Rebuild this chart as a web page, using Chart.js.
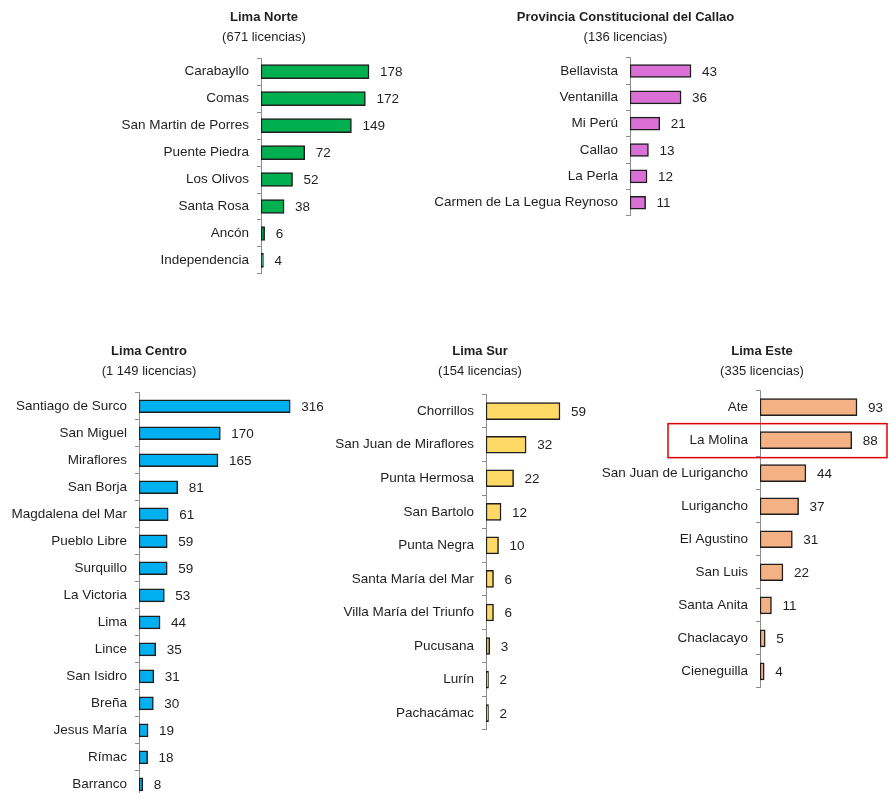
<!DOCTYPE html>
<html>
<head>
<meta charset="utf-8">
<script src="https://cdn.jsdelivr.net/npm/chart.js@4.4.1/dist/chart.umd.min.js"></script>
<style>
  html, body { margin: 0; padding: 0; background: #fff; overflow: hidden; width: 888px; height: 793px; }
  canvas { position: absolute; }
</style>
</head>
<body>
<canvas id="norte" width="312" height="290" style="left:108px;top:0px"></canvas>
<canvas id="callao" width="411" height="232" style="left:420px;top:0px"></canvas>
<canvas id="centro" width="358" height="480" style="left:-30px;top:334px"></canvas>
<canvas id="sur" width="320" height="412" style="left:320px;top:334px"></canvas>
<canvas id="este" width="344" height="370" style="left:590px;top:334px"></canvas>
<script>
// datos por zona
const norteLabels = ['Carabayllo', 'Comas', 'San Martin de Porres', 'Puente Piedra', 'Los Olivos', 'Santa Rosa', 'Ancón', 'Independencia'];
const norteValues = [178, 172, 149, 72, 52, 38, 6, 4];

const callaoLabels = ['Bellavista', 'Ventanilla', 'Mi Perú', 'Callao', 'La Perla', 'Carmen de La Legua Reynoso'];
const callaoValues = [43, 36, 21, 13, 12, 11];

const centroLabels = ['Santiago de Surco', 'San Miguel', 'Miraflores', 'San Borja', 'Magdalena del Mar', 'Pueblo Libre', 'Surquillo', 'La Victoria', 'Lima', 'Lince', 'San Isidro', 'Breña', 'Jesus María', 'Rímac', 'Barranco'];
const centroValues = [316, 170, 165, 81, 61, 59, 59, 53, 44, 35, 31, 30, 19, 18, 8];

const surLabels = ['Chorrillos', 'San Juan de Miraflores', 'Punta Hermosa', 'San Bartolo', 'Punta Negra', 'Santa María del Mar', 'Villa María del Triunfo', 'Pucusana', 'Lurín', 'Pachacámac'];
const surValues = [59, 32, 22, 12, 10, 6, 6, 3, 2, 2];

const esteLabels = ['Ate', 'La Molina', 'San Juan de Lurigancho', 'Lurigancho', 'El Agustino', 'San Luis', 'Santa Anita', 'Chaclacayo', 'Cieneguilla'];
const esteValues = [93, 88, 44, 37, 31, 22, 11, 5, 4];

const FONT = '"Liberation Sans", Arial, sans-serif';
const TEXT = '#1f1f1f';

// numeros al final de cada barra
const valueLabels = {
    id: 'valueLabels',
    afterDatasetsDraw(chart) {
        const ctx = chart.ctx;
        const meta = chart.getDatasetMeta(0);
        ctx.save();
        ctx.font = '13.5px ' + FONT;
        ctx.fillStyle = TEXT;
        ctx.textBaseline = 'middle';
        meta.data.forEach((bar, i) => {
            ctx.fillText(String(chart.data.datasets[0].data[i]), bar.x + 11, bar.y + 1);
        });
        ctx.restore();
    }
};

// recuadro rojo sobre La Molina
const highlightBox = {
    id: 'highlightBox',
    afterDraw(chart, args, opts) {
        if (opts.index === undefined) return;
        const y = chart.scales.y.getPixelForValue(opts.index);
        const left = chart.chartArea.left;
        const ctx = chart.ctx;
        ctx.save();
        ctx.strokeStyle = '#e00000';
        ctx.lineWidth = 1.5;
        ctx.strokeRect(left - 92, y - 16.5, 219, 34);
        ctx.restore();
    }
};

function makeChart(id, title, subtitle, labels, values, color, cfg) {
    return new Chart(document.getElementById(id), {
        type: 'bar',
        data: {
            labels: labels,
            datasets: [{
                data: values,
                backgroundColor: color,
                borderColor: '#1e1e1e',
                borderWidth: 1.5,
                borderSkipped: false,
                barThickness: cfg.bar
            }]
        },
        options: {
            indexAxis: 'y',
            responsive: false,
            animation: false,
            devicePixelRatio: 1,
            layout: { padding: { top: 0, bottom: 12, left: 0, right: 0 } },
            plugins: {
                legend: { display: false },
                tooltip: { enabled: false },
                title: {
                    display: true,
                    text: title,
                    color: TEXT,
                    font: { family: FONT, size: 13, weight: 'bold' },
                    padding: { top: 9.2, bottom: 5 }
                },
                subtitle: {
                    display: true,
                    text: subtitle,
                    color: TEXT,
                    font: { family: FONT, size: 13 },
                    padding: { top: 0, bottom: cfg.gap }
                },
                highlightBox: { index: cfg.highlight }
            },
            scales: {
                x: { display: false, min: 0, max: cfg.max },
                y: {
                    afterFit(scale) { scale.width = cfg.axis; },
                    border: { display: true, color: '#8c8c8c', width: 1 },
                    grid: {
                        offset: true,
                        drawOnChartArea: false,
                        drawTicks: true,
                        tickLength: 4,
                        color: '#8c8c8c'
                    },
                    ticks: {
                        color: TEXT,
                        padding: 8,
                        font: { family: FONT, size: 13.5 }
                    }
                }
            }
        },
        plugins: [valueLabels, highlightBox]
    });
}

makeChart('norte', 'Lima Norte', '(671 licencias)', norteLabels, norteValues, '#00b050',
    { bar: 14, gap: 12.8, axis: 153, max: 262 });
makeChart('callao', 'Provincia Constitucional del Callao', '(136 licencias)', callaoLabels, callaoValues, '#da70d6',
    { bar: 13, gap: 12.4, axis: 210, max: 141.6 });
makeChart('centro', 'Lima Centro', '(1 149 licencias)', centroLabels, centroValues, '#00b0f0',
    { bar: 13, gap: 13.3, axis: 169, max: 395 });
makeChart('sur', 'Lima Sur', '(154 licencias)', surLabels, surValues, '#ffd966',
    { bar: 17, gap: 15, axis: 166, max: 122.8 });
makeChart('este', 'Lima Este', '(335 licencias)', esteLabels, esteValues, '#f4b183',
    { bar: 17, gap: 11.2, axis: 170, max: 166.8, highlight: 1 });
</script>
</body>
</html>
